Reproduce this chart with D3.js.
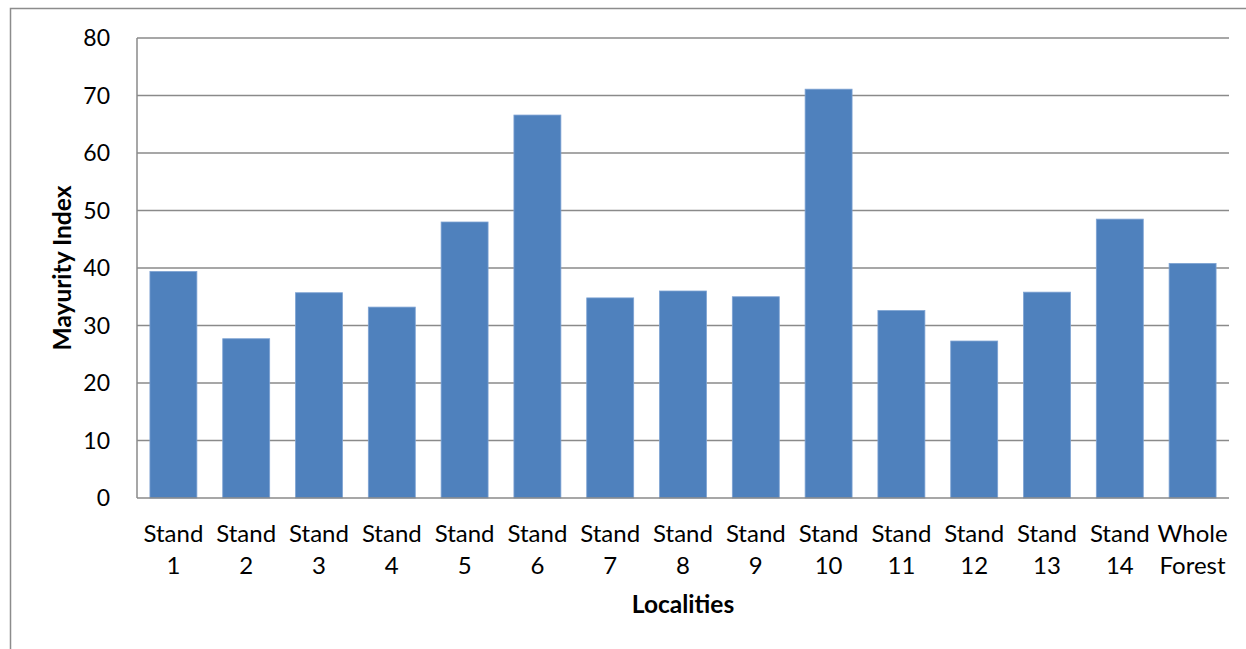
<!DOCTYPE html>
<html>
<head>
<meta charset="utf-8">
<script src="https://cdn.jsdelivr.net/npm/d3@7"></script>
<style>
  html, body { margin: 0; padding: 0; background: #fff; }
  svg { display: block; }
  text { font-family: Lato, "Open Sans", sans-serif; fill: #000; }
</style>
</head>
<body>
<svg id="chart" width="1246" height="649"></svg>
<script>
// Mayurity index per locality
const categories = [
  ["Stand", "1"], ["Stand", "2"], ["Stand", "3"], ["Stand", "4"], ["Stand", "5"],
  ["Stand", "6"], ["Stand", "7"], ["Stand", "8"], ["Stand", "9"], ["Stand", "10"],
  ["Stand", "11"], ["Stand", "12"], ["Stand", "13"], ["Stand", "14"], ["Whole", "Forest"]
];
const values = [39.4, 27.7, 35.7, 33.2, 48.0, 66.6, 34.8, 36.0, 35.0, 71.1, 32.6, 27.3, 35.8, 48.5, 40.8];
const yTicks = [0, 10, 20, 30, 40, 50, 60, 70, 80];
const xTitle = "Localities";
const yTitle = "Mayurity Index";

const svg = d3.select("#chart");
const W = 1246, H = 649;
const plot = { left: 137, right: 1229, top: 38, bottom: 498 };

// outer chart frame
svg.append("rect")
  .attr("x", 10.5).attr("y", 8.5)
  .attr("width", W + 10).attr("height", H + 10)
  .attr("fill", "none").attr("stroke", "#8c8c8c").attr("stroke-width", 1.5);

const keys = categories.map((c, i) => i);
const x = d3.scaleBand().domain(keys).range([plot.left, plot.right]).paddingInner(0.355).paddingOuter(0.1775);
const y = d3.scaleLinear().domain([0, 80]).range([plot.bottom, plot.top]);

// gridlines
svg.append("g")
  .selectAll("line")
  .data(yTicks.filter(t => t > 0))
  .join("line")
  .attr("x1", plot.left).attr("x2", plot.right)
  .attr("y1", d => y(d)).attr("y2", d => y(d))
  .attr("stroke", "#8a8a8a").attr("stroke-width", 1.5);

// bars
svg.append("g")
  .selectAll("rect")
  .data(values)
  .join("rect")
  .attr("x", (d, i) => x(i))
  .attr("width", x.bandwidth())
  .attr("y", d => y(d))
  .attr("height", d => y(0) - y(d))
  .attr("fill", "#4f81bd")
  .attr("stroke", "#7ea3d3").attr("stroke-width", 0.8);

// axes lines
svg.append("line")
  .attr("x1", plot.left).attr("x2", plot.left)
  .attr("y1", plot.top).attr("y2", plot.bottom)
  .attr("stroke", "#8a8a8a").attr("stroke-width", 1.5);
svg.append("line")
  .attr("x1", plot.left).attr("x2", plot.right)
  .attr("y1", plot.bottom).attr("y2", plot.bottom)
  .attr("stroke", "#8a8a8a").attr("stroke-width", 1.5);

// y tick labels
svg.append("g")
  .selectAll("text")
  .data(yTicks)
  .join("text")
  .attr("x", 110)
  .attr("y", d => y(d))
  .attr("dy", "0.36em")
  .attr("text-anchor", "end")
  .attr("font-size", 23)
  .text(d => d);

// x category labels (two lines)
const xl = svg.append("g")
  .selectAll("text")
  .data(categories)
  .join("text")
  .attr("text-anchor", "middle")
  .attr("font-size", 24)
  .attr("transform", (d, i) => `translate(${x(i) + x.bandwidth() / 2},0)`);
xl.append("tspan").attr("x", 0).attr("y", 542).text(d => d[0]);
xl.append("tspan").attr("x", 0).attr("y", 574).text(d => d[1]);

// axis titles
svg.append("text")
  .attr("x", (plot.left + plot.right) / 2)
  .attr("y", 613)
  .attr("text-anchor", "middle")
  .attr("font-size", 24.5)
  .attr("font-weight", "bold")
  .text(xTitle);

svg.append("text")
  .attr("transform", `translate(71,${(plot.top + plot.bottom) / 2}) rotate(-90)`)
  .attr("text-anchor", "middle")
  .attr("font-size", 24.5)
  .attr("font-weight", "bold")
  .text(yTitle);
</script>
</body>
</html>
